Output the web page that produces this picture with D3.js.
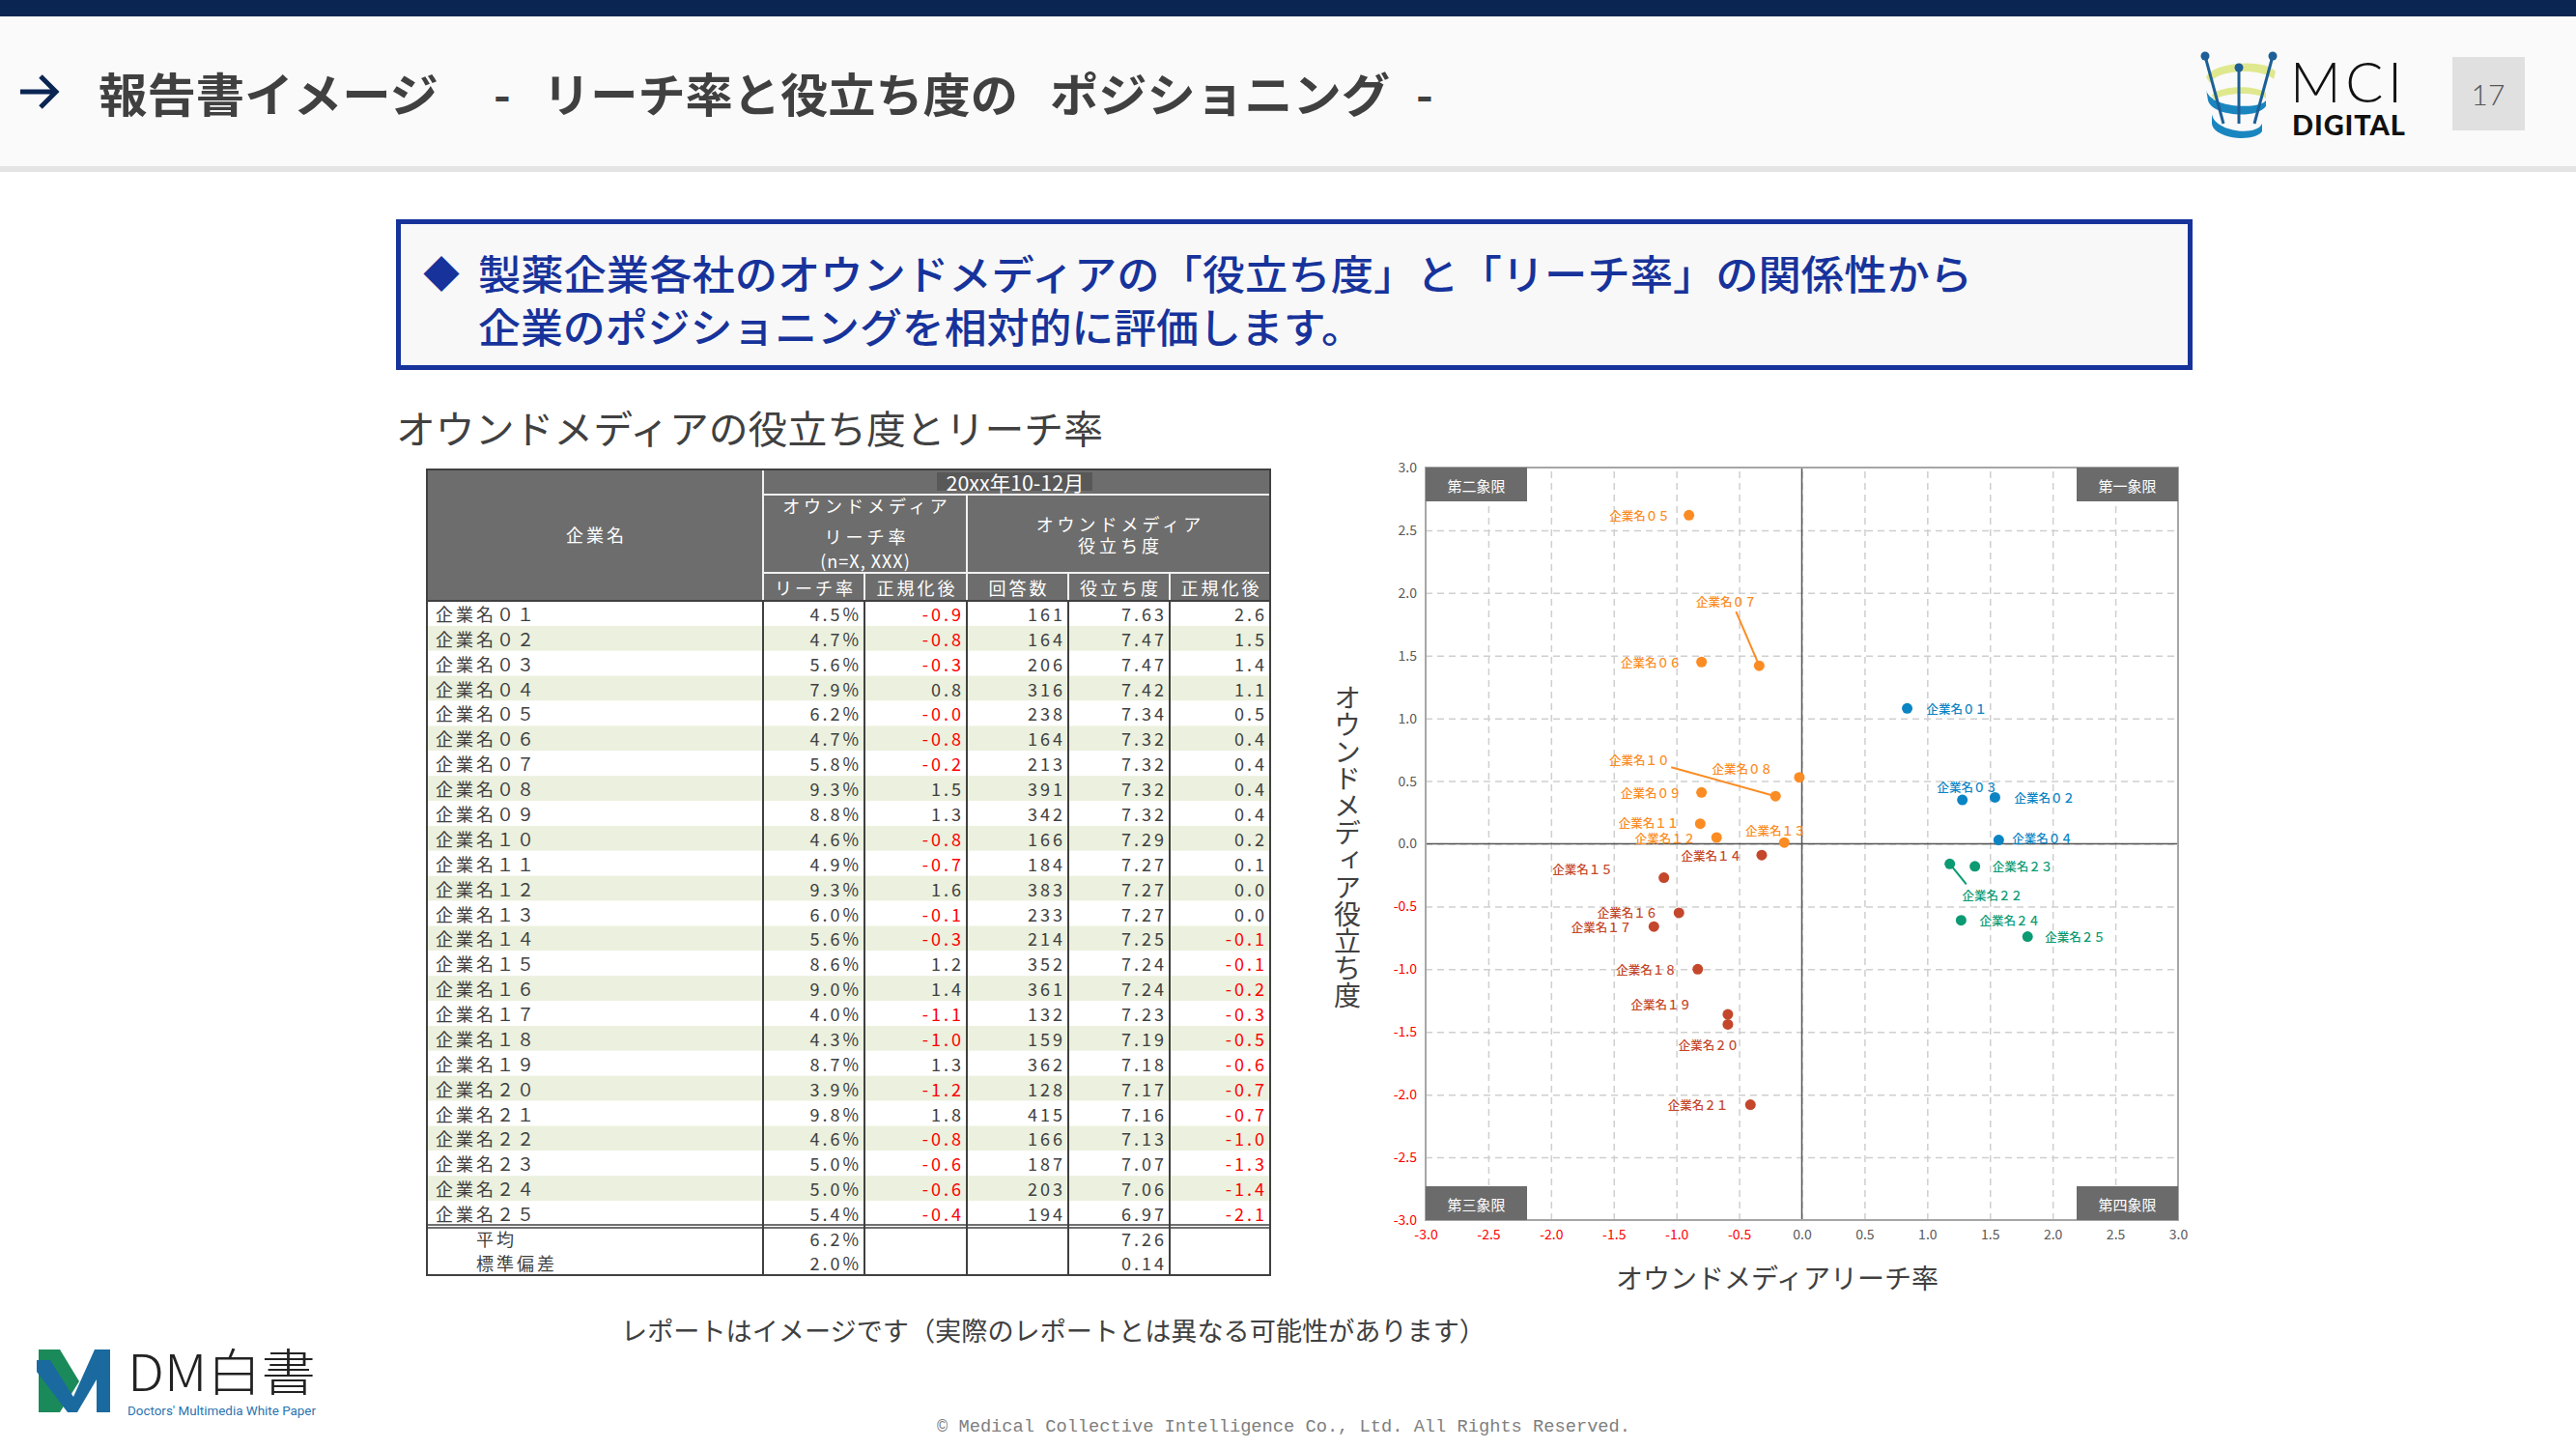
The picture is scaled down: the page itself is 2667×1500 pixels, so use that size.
<!DOCTYPE html>
<html>
<head>
<meta charset="utf-8">
<script src="https://cdn.jsdelivr.net/npm/d3@7"></script>
<style>
  body { margin: 0; background: #fff; }
  svg { display: block; font-family: "Noto Sans CJK JP", "Noto Sans", sans-serif; }
</style>
</head>
<body>
<svg id="slide" width="2667" height="1500"></svg>
<script>
/* global d3 */

// ---- table data ----
const companies = [
  '企業名０１', '企業名０２', '企業名０３', '企業名０４', '企業名０５',
  '企業名０６', '企業名０７', '企業名０８', '企業名０９', '企業名１０',
  '企業名１１', '企業名１２', '企業名１３', '企業名１４', '企業名１５',
  '企業名１６', '企業名１７', '企業名１８', '企業名１９', '企業名２０',
  '企業名２１', '企業名２２', '企業名２３', '企業名２４', '企業名２５'];
const reachRate = [4.5, 4.7, 5.6, 7.9, 6.2, 4.7, 5.8, 9.3, 8.8, 4.6, 4.9, 9.3, 6.0,
  5.6, 8.6, 9.0, 4.0, 4.3, 8.7, 3.9, 9.8, 4.6, 5.0, 5.0, 5.4];
const reachNorm = [-0.9, -0.8, -0.3, 0.8, -0.04, -0.8, -0.2, 1.5, 1.3, -0.8, -0.7, 1.6, -0.1,
  -0.3, 1.2, 1.4, -1.1, -1.0, 1.3, -1.2, 1.8, -0.8, -0.6, -0.6, -0.4];
const answerCount = [161, 164, 206, 316, 238, 164, 213, 391, 342, 166, 184, 383, 233,
  214, 352, 361, 132, 159, 362, 128, 415, 166, 187, 203, 194];
const usefulness = [7.63, 7.47, 7.47, 7.42, 7.34, 7.32, 7.32, 7.32, 7.32, 7.29, 7.27, 7.27, 7.27,
  7.25, 7.24, 7.24, 7.23, 7.19, 7.18, 7.17, 7.16, 7.13, 7.07, 7.06, 6.97];
const usefulNorm = [2.6, 1.5, 1.4, 1.1, 0.5, 0.4, 0.4, 0.4, 0.4, 0.2, 0.1, 0.0, 0.0,
  -0.1, -0.1, -0.2, -0.3, -0.5, -0.6, -0.7, -0.7, -1.0, -1.3, -1.4, -2.1];
const summaryLabels = ['平均', '標準偏差'];
const summaryReach = [6.2, 2.0];
const summaryUseful = [7.26, 0.14];
const subHeaders = ['リーチ率', '正規化後', '回答数', '役立ち度', '正規化後'];

// ---- scatter data ----
const plotNames = companies;
const plotX = [0.84, 1.54, 1.28, 1.57, -0.90, -0.80, -0.34, -0.02, -0.80, -0.21, -0.81, -0.68, -0.14,
  -0.32, -1.10, -0.98, -1.18, -0.83, -0.59, -0.59, -0.41, 1.18, 1.38, 1.27, 1.80];
const plotY = [1.08, 0.37, 0.35, 0.03, 2.62, 1.45, 1.42, 0.53, 0.41, 0.38, 0.16, 0.05, 0.01,
  -0.09, -0.27, -0.55, -0.66, -1.00, -1.36, -1.44, -2.08, -0.16, -0.18, -0.61, -0.74];
const plotGroup = ['A', 'A', 'A', 'A', 'B', 'B', 'B', 'B', 'B', 'B', 'B', 'B', 'B',
  'C', 'C', 'C', 'C', 'C', 'C', 'C', 'C', 'D', 'D', 'D', 'D'];
const axisTicks = [-3, -2.5, -2, -1.5, -1, -0.5, 0, 0.5, 1, 1.5, 2, 2.5, 3];
const quadrants = ['第二象限', '第一象限', '第三象限', '第四象限'];

// label layout: anchor, dx, dy, optional leader start
const labelPlacement = {
  '企業名０１': ['start', 20, 0], '企業名０２': ['start', 20, 0],
  '企業名０３': ['middle', 5, -14], '企業名０４': ['start', 14, -2],
  '企業名０５': ['end', -20, 0], '企業名０６': ['end', -21, 0],
  '企業名０７': ['middle', -34, -67, [-24, -56]], '企業名０８': ['end', -28, -9],
  '企業名０９': ['end', -21, 0], '企業名１０': ['middle', -141, -38, [-108, -30]],
  '企業名１１': ['end', -22, -1], '企業名１２': ['end', -22, 0],
  '企業名１３': ['middle', -9, -13], '企業名１４': ['end', -21, 0],
  '企業名１５': ['end', -53, -9], '企業名１６': ['end', -22, 0],
  '企業名１７': ['end', -23, 0], '企業名１８': ['end', -22, 0],
  '企業名１９': ['end', -38, -11], '企業名２０': ['middle', -20, 21],
  '企業名２１': ['end', -23, 0], '企業名２２': ['middle', 44, 32, [17, 21]],
  '企業名２３': ['start', 18, 0], '企業名２４': ['start', 19, 0],
  '企業名２５': ['start', 18, 0],
};

const groupColor = d3.scaleOrdinal()
  .domain(['A', 'B', 'C', 'D'])
  .range(['#0b84c4', '#fb8c23', '#c4472b', '#0b9a72']);

const slide = d3.select('#slide');
const textGray = '#404040';

function fmtNorm(v) {
  return (v < 0 ? '-' : '') + Math.abs(v).toFixed(1);
}

// ---------- header ----------
function drawHeader() {
  slide.append('rect').attr('width', 2667).attr('height', 1500).attr('fill', '#fff');
  slide.append('rect').attr('y', 17).attr('width', 2667).attr('height', 155).attr('fill', '#fafafa');
  slide.append('rect').attr('y', 172).attr('width', 2667).attr('height', 6).attr('fill', '#e4e4e4');
  slide.append('rect').attr('width', 2667).attr('height', 17).attr('fill', '#0b2553');

  slide.append('path')
    .attr('d', 'M21,95 H57 M42,79 L58,95 L42,111')
    .attr('fill', 'none').attr('stroke', '#0b2553').attr('stroke-width', 5);

  const title = [
    ['報告書イメージ', 102, 352],
    ['リーチ率と役立ち度の', 562, 492],
    ['ポジショニング', 1087, 352],
  ];
  slide.selectAll('text.title').data(title).enter().append('text')
    .attr('class', 'title')
    .attr('x', d => d[1]).attr('y', 95)
    .attr('textLength', d => d[2]).attr('lengthAdjust', 'spacingAndGlyphs')
    .attr('dominant-baseline', 'central')
    .attr('font-size', 48).attr('font-weight', 700).attr('fill', textGray)
    .text(d => d[0]);
  slide.selectAll('text.dash').data([520, 1475]).enter().append('text')
    .attr('class', 'dash')
    .attr('x', d => d).attr('y', 95).attr('text-anchor', 'middle')
    .attr('dominant-baseline', 'central')
    .attr('font-size', 48).attr('font-weight', 700).attr('fill', textGray)
    .text('-');

  // MCI logo
  const logo = slide.append('g');
  logo.append('path')
    .attr('d', 'M2284,80 C2290,64 2345,60 2356,74 L2354,82 C2340,70 2296,72 2288,86 Z')
    .attr('fill', '#dfe88f');
  logo.append('path')
    .attr('d', 'M2284,92 C2286,112 2340,114 2346,104 L2346,110 C2336,124 2290,120 2286,104 Z')
    .attr('fill', '#1a86c0');
  logo.append('path')
    .attr('d', 'M2290,98 C2300,88 2335,88 2346,96 L2346,102 C2335,94 2300,96 2292,104 Z')
    .attr('fill', '#dfe88f');
  logo.append('path')
    .attr('d', 'M2290,118 C2292,136 2336,142 2342,128 L2342,136 C2334,148 2292,144 2290,128 Z')
    .attr('fill', '#1a86c0');
  [[2283, 58, 2302, 128], [2318, 70, 2318, 128], [2353, 58, 2334, 128]].forEach(p => {
    logo.append('line').attr('x1', p[0]).attr('y1', p[1]).attr('x2', p[2]).attr('y2', p[3])
      .attr('stroke', '#1d5f96').attr('stroke-width', 3);
    logo.append('circle').attr('cx', p[0]).attr('cy', p[1]).attr('r', 4.5).attr('fill', '#1d5f96');
  });
  logo.append('text').attr('x', 2371).attr('y', 106)
    .attr('font-family', 'Lato, "Open Sans", sans-serif').attr('font-weight', 300)
    .attr('font-size', 58).attr('textLength', 116).attr('fill', '#111').text('MCI');
  logo.append('text').attr('x', 2373).attr('y', 140)
    .attr('font-family', 'Lato, "Open Sans", sans-serif').attr('font-weight', 900)
    .attr('font-size', 29).attr('textLength', 117).attr('fill', '#111').text('DIGITAL');

  slide.append('rect').attr('x', 2539).attr('y', 59).attr('width', 75).attr('height', 76)
    .attr('fill', '#e0e0e0');
  slide.append('text').attr('x', 2576).attr('y', 97).attr('text-anchor', 'middle')
    .attr('dominant-baseline', 'central')
    .attr('font-family', 'Lato, "Open Sans", sans-serif').attr('font-weight', 300)
    .attr('font-size', 30).attr('fill', '#555').text('17');
}

// ---------- message box ----------
function drawMessage() {
  slide.append('rect').attr('x', 412.5).attr('y', 229.5).attr('width', 1855).attr('height', 151)
    .attr('fill', '#f8f8f8').attr('stroke', '#17339b').attr('stroke-width', 5);
  slide.append('text').attr('x', 457).attr('y', 281).attr('text-anchor', 'middle')
    .attr('dominant-baseline', 'central').attr('font-size', 38).attr('fill', '#17339b').text('◆');
  slide.append('text').attr('x', 495).attr('y', 281).attr('dominant-baseline', 'central')
    .attr('font-size', 42).attr('font-weight', 500).attr('fill', '#17339b')
    .attr('textLength', 1547).attr('lengthAdjust', 'spacingAndGlyphs')
    .text('製薬企業各社のオウンドメディアの「役立ち度」と「リーチ率」の関係性から');
  slide.append('text').attr('x', 495).attr('y', 336).attr('dominant-baseline', 'central')
    .attr('font-size', 42).attr('font-weight', 500).attr('fill', '#17339b')
    .attr('textLength', 917).attr('lengthAdjust', 'spacingAndGlyphs')
    .text('企業のポジショニングを相対的に評価します。');
  slide.append('text').attr('x', 410).attr('y', 442).attr('dominant-baseline', 'central')
    .attr('font-size', 40).attr('fill', textGray)
    .attr('textLength', 732).attr('lengthAdjust', 'spacingAndGlyphs')
    .text('オウンドメディアの役立ち度とリーチ率');
}

// ---------- table ----------
function drawTable() {
  const colEdges = [442, 790, 895, 1001, 1106, 1211, 1315];
  const headTop = 486;
  const headRow1 = 512;
  const headRow2 = 593;
  const bodyTop = 622;
  const bodyBottom = 1269;
  const tableBottom = 1320;
  const headFill = '#6d6d6d';
  const sep = '#f0f0f0';
  const g = slide.append('g');

  const rowY = d3.scaleBand().domain(companies).range([bodyTop, bodyBottom]);
  const sumY = d3.scaleBand().domain(summaryLabels).range([bodyBottom, tableBottom]);

  // header block
  g.append('rect').attr('x', colEdges[0]).attr('y', headTop)
    .attr('width', colEdges[6] - colEdges[0]).attr('height', bodyTop - headTop).attr('fill', headFill);
  g.append('rect').attr('x', 970).attr('y', 489).attr('width', 161).attr('height', 19)
    .attr('fill', '#585858');

  const sepLines = [
    [colEdges[1], headRow1, colEdges[6], headRow1],
    [colEdges[1], headRow2, colEdges[6], headRow2],
    [colEdges[1], headTop, colEdges[1], bodyTop],
    [colEdges[3], headRow1, colEdges[3], bodyTop],
    [colEdges[2], headRow2, colEdges[2], bodyTop],
    [colEdges[4], headRow2, colEdges[4], bodyTop],
    [colEdges[5], headRow2, colEdges[5], bodyTop],
  ];
  g.selectAll('line.sep').data(sepLines).enter().append('line')
    .attr('x1', d => d[0]).attr('y1', d => d[1]).attr('x2', d => d[2]).attr('y2', d => d[3])
    .attr('stroke', sep).attr('stroke-width', 2);

  const headTexts = [
    ['企業名', (colEdges[0] + colEdges[1]) / 2, 553, 3],
    ['オウンドメディア', (colEdges[1] + colEdges[3]) / 2, 523, 4],
    ['リーチ率', (colEdges[1] + colEdges[3]) / 2, 555, 4],
    ['(n=X, XXX)', (colEdges[1] + colEdges[3]) / 2, 580, 1],
    ['オウンドメディア', (colEdges[3] + colEdges[6]) / 2, 542, 4],
    ['役立ち度', (colEdges[3] + colEdges[6]) / 2, 564, 4],
  ];
  subHeaders.forEach((s, i) => {
    headTexts.push([s, (colEdges[i + 1] + colEdges[i + 2]) / 2, 608, 3]);
  });
  g.selectAll('text.head').data(headTexts).enter().append('text')
    .attr('x', d => d[1] + d[3] / 2).attr('y', d => d[2])
    .attr('text-anchor', 'middle').attr('dominant-baseline', 'central')
    .attr('font-size', 18).attr('letter-spacing', d => d[3]).attr('fill', '#fff')
    .text(d => d[0]);
  g.append('text').attr('x', 1051).attr('y', 499)
    .attr('text-anchor', 'middle').attr('dominant-baseline', 'central')
    .attr('font-size', 21).attr('fill', '#fff')
    .attr('textLength', 143).attr('lengthAdjust', 'spacingAndGlyphs')
    .text('20xx年10-12月');

  // body rows
  const rows = g.selectAll('g.row').data(companies).enter().append('g')
    .attr('transform', d => `translate(0,${rowY(d)})`);
  rows.append('rect').attr('x', colEdges[0]).attr('width', colEdges[6] - colEdges[0])
    .attr('height', rowY.bandwidth())
    .attr('fill', (d, i) => (i % 2 === 1 ? '#ebf1de' : '#fff'));
  rows.append('text').attr('x', 451).attr('y', rowY.bandwidth() / 2)
    .attr('dominant-baseline', 'central').attr('font-size', 18).attr('letter-spacing', 3)
    .attr('fill', textGray).text(d => d);

  const cellVals = (d, i) => [
    [`${reachRate[i].toFixed(1)}%`, false],
    [fmtNorm(reachNorm[i]), reachNorm[i] < 0],
    [`${answerCount[i]}`, false],
    [usefulness[i].toFixed(2), false],
    [fmtNorm(usefulNorm[i]), usefulNorm[i] < 0],
  ];
  rows.selectAll('text.val').data(cellVals).enter().append('text')
    .attr('class', 'val')
    .attr('x', (d, j) => colEdges[j + 2] - 3).attr('y', rowY.bandwidth() / 2)
    .attr('text-anchor', 'end').attr('dominant-baseline', 'central')
    .attr('font-size', 18).attr('letter-spacing', 3)
    .attr('fill', d => (d[1] ? '#ff0000' : textGray)).text(d => d[0]);

  // summary rows
  const sums = g.selectAll('g.sum').data(summaryLabels).enter().append('g')
    .attr('transform', d => `translate(0,${sumY(d)})`);
  sums.append('rect').attr('x', colEdges[0]).attr('width', colEdges[6] - colEdges[0])
    .attr('height', sumY.bandwidth()).attr('fill', '#fff');
  sums.append('text').attr('x', 493).attr('y', sumY.bandwidth() / 2)
    .attr('dominant-baseline', 'central').attr('font-size', 18).attr('letter-spacing', 3)
    .attr('fill', textGray).text(d => d);
  sums.append('text').attr('x', colEdges[2] - 3).attr('y', sumY.bandwidth() / 2)
    .attr('text-anchor', 'end').attr('dominant-baseline', 'central')
    .attr('font-size', 18).attr('letter-spacing', 3).attr('fill', textGray)
    .text((d, i) => `${summaryReach[i].toFixed(1)}%`);
  sums.append('text').attr('x', colEdges[5] - 3).attr('y', sumY.bandwidth() / 2)
    .attr('text-anchor', 'end').attr('dominant-baseline', 'central')
    .attr('font-size', 18).attr('letter-spacing', 3).attr('fill', textGray)
    .text((d, i) => summaryUseful[i].toFixed(2));

  // body grid lines
  g.selectAll('line.vcol').data(colEdges.slice(1, 6)).enter().append('line')
    .attr('x1', d => d).attr('x2', d => d).attr('y1', bodyTop).attr('y2', tableBottom)
    .attr('stroke', textGray).attr('stroke-width', 2);
  g.selectAll('line.dbl').data([bodyBottom - 1, bodyBottom + 2]).enter().append('line')
    .attr('x1', colEdges[0]).attr('x2', colEdges[6]).attr('y1', d => d).attr('y2', d => d)
    .attr('stroke', textGray).attr('stroke-width', 1.5);
  g.append('line').attr('x1', colEdges[0]).attr('x2', colEdges[6])
    .attr('y1', bodyTop).attr('y2', bodyTop).attr('stroke', textGray).attr('stroke-width', 2);
  g.append('rect').attr('x', colEdges[0]).attr('y', headTop)
    .attr('width', colEdges[6] - colEdges[0]).attr('height', tableBottom - headTop)
    .attr('fill', 'none').attr('stroke', textGray).attr('stroke-width', 2);
}

// ---------- scatter ----------
function drawScatter() {
  const x = d3.scaleLinear().domain([-3, 3]).range([1476, 2255]);
  const y = d3.scaleLinear().domain([-3, 3]).range([1263, 484]);
  const g = slide.append('g');
  const w = x(3) - x(-3);
  const h = y(-3) - y(3);

  g.append('rect').attr('x', x(-3)).attr('y', y(3)).attr('width', w).attr('height', h)
    .attr('fill', '#fff');

  // dashed grid
  const gridX = g.append('g').attr('transform', `translate(0,${y(-3)})`)
    .call(d3.axisBottom(x).tickValues(axisTicks.slice(1, -1)).tickSize(-h).tickFormat(''));
  const gridY = g.append('g').attr('transform', `translate(${x(-3)},0)`)
    .call(d3.axisLeft(y).tickValues(axisTicks.slice(1, -1)).tickSize(-w).tickFormat(''));
  [gridX, gridY].forEach(a => {
    a.select('.domain').remove();
    a.selectAll('line').attr('stroke', '#cfcfcf').attr('stroke-width', 1.5)
      .attr('stroke-dasharray', '7,5');
  });

  // tick labels
  const tickColor = v => (v < 0 ? '#ff0000' : '#595959');
  const axX = g.append('g').attr('transform', `translate(0,${y(-3)})`)
    .call(d3.axisBottom(x).tickValues(axisTicks).tickSize(0).tickPadding(10).tickFormat(fmtNorm));
  const axY = g.append('g').attr('transform', `translate(${x(-3)},0)`)
    .call(d3.axisLeft(y).tickValues(axisTicks).tickSize(0).tickPadding(9).tickFormat(fmtNorm));
  [axX, axY].forEach(a => {
    a.select('.domain').remove();
    a.attr('font-family', null).attr('font-size', null);
    a.selectAll('text').attr('font-size', 14).attr('fill', d => tickColor(d));
  });

  // zero axes and frame
  g.append('line').attr('x1', x(0)).attr('x2', x(0)).attr('y1', y(3)).attr('y2', y(-3))
    .attr('stroke', '#555').attr('stroke-width', 1.5);
  g.append('line').attr('x1', x(-3)).attr('x2', x(3)).attr('y1', y(0)).attr('y2', y(0))
    .attr('stroke', '#555').attr('stroke-width', 1.5);
  g.append('rect').attr('x', x(-3)).attr('y', y(3)).attr('width', w).attr('height', h)
    .attr('fill', 'none').attr('stroke', '#a6a6a6').attr('stroke-width', 2);

  // quadrant tags
  const qPos = [[x(-3), y(3)], [x(3) - 105, y(3)], [x(-3), y(-3) - 35], [x(3) - 105, y(-3) - 35]];
  const q = g.selectAll('g.q').data(quadrants).enter().append('g')
    .attr('transform', (d, i) => `translate(${qPos[i][0]},${qPos[i][1]})`);
  q.append('rect').attr('width', 105).attr('height', 35).attr('fill', '#6b6b6b');
  q.append('text').attr('x', 52.5).attr('y', 18).attr('text-anchor', 'middle')
    .attr('dominant-baseline', 'central').attr('font-size', 15).attr('fill', '#fff').text(d => d);

  // leaders, points, labels
  plotNames.forEach((name, i) => {
    const p = labelPlacement[name];
    const px = x(plotX[i]);
    const py = y(plotY[i]);
    const c = groupColor(plotGroup[i]);
    if (p[3]) {
      g.append('line').attr('x1', px + p[3][0]).attr('y1', py + p[3][1])
        .attr('x2', px).attr('y2', py).attr('stroke', c).attr('stroke-width', 2);
    }
    g.append('circle').attr('cx', px).attr('cy', py).attr('r', 5.5).attr('fill', c);
    g.append('text').attr('x', px + p[1]).attr('y', py + p[2])
      .attr('text-anchor', p[0]).attr('dominant-baseline', 'central')
      .attr('font-size', 12.5).attr('font-weight', 500).attr('fill', c).text(name);
  });

  // axis titles
  slide.append('text').attr('x', 1395).attr('y', 876)
    .attr('text-anchor', 'middle').attr('dominant-baseline', 'central')
    .style('writing-mode', 'vertical-rl').style('text-orientation', 'upright')
    .attr('font-size', 28).attr('fill', textGray).text('オウンドメディア役立ち度');
  slide.append('text').attr('x', 1840).attr('y', 1322)
    .attr('text-anchor', 'middle').attr('dominant-baseline', 'central')
    .attr('font-size', 28).attr('fill', textGray).text('オウンドメディアリーチ率');
}

// ---------- footer ----------
function drawFooter() {
  slide.append('text').attr('x', 643).attr('y', 1376).attr('dominant-baseline', 'central')
    .attr('font-size', 27).attr('fill', textGray)
    .attr('textLength', 895).attr('lengthAdjust', 'spacingAndGlyphs')
    .text('レポートはイメージです（実際のレポートとは異なる可能性があります）');

  const logo = slide.append('g');
  logo.append('path').attr('d', 'M40,1397 H62 L82,1430 L62,1462 H40 Z').attr('fill', '#1b8a5a');
  logo.append('path')
    .attr('d', 'M38,1408 L52,1408 L76,1446 L98,1397 H114 V1462 H100 V1428 L80,1462 H70 L38,1420 Z')
    .attr('fill', '#1a6aa0');
  logo.append('path').attr('d', 'M40,1430 L60,1462 H40 Z').attr('fill', '#1b8a5a');
  logo.append('text').attr('x', 132).attr('y', 1440)
    .attr('font-size', 52).attr('font-weight', 300).attr('fill', '#222')
    .attr('textLength', 195).attr('lengthAdjust', 'spacingAndGlyphs').text('DM白書');
  logo.append('text').attr('x', 132).attr('y', 1465)
    .attr('font-family', 'Roboto, sans-serif').attr('font-size', 12).attr('fill', '#2a74b0')
    .attr('textLength', 195).attr('lengthAdjust', 'spacingAndGlyphs')
    .text("Doctors' Multimedia White Paper");

  slide.append('text').attr('x', 970).attr('y', 1477).attr('dominant-baseline', 'central')
    .attr('font-family', '"Liberation Mono", "DejaVu Sans Mono", monospace')
    .attr('font-size', 19).attr('fill', '#7f7f7f')
    .attr('textLength', 718).attr('lengthAdjust', 'spacingAndGlyphs')
    .text('© Medical Collective Intelligence Co., Ltd.  All Rights Reserved.');
}

drawHeader();
drawMessage();
drawTable();
drawScatter();
drawFooter();
</script>
</body>
</html>
